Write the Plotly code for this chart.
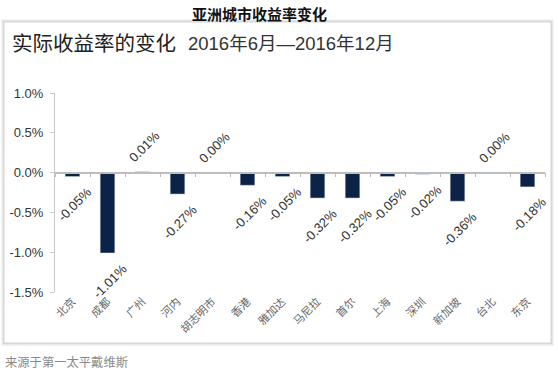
import plotly.graph_objects as go

cities = ["北京", "成都", "广州", "河内", "胡志明市", "香港", "雅加达", "马尼拉",
          "首尔", "上海", "深圳", "新加坡", "台北", "东京"]
values = [-0.05, -1.01, 0.01, -0.27, 0.00, -0.16, -0.05, -0.32,
          -0.32, -0.05, -0.02, -0.36, 0.00, -0.18]
value_labels = ["-0.05%", "-1.01%", "0.01%", "-0.27%", "0.00%", "-0.16%", "-0.05%", "-0.32%",
                "-0.32%", "-0.05%", "-0.02%", "-0.36%", "0.00%", "-0.18%"]
y_ticks = [1.0, 0.5, 0.0, -0.5, -1.0, -1.5]
y_tick_labels = ["1.0%", "0.5%", "0.0%", "-0.5%", "-1.0%", "-1.5%"]

W, H = 558, 376
ML, MR, MT, MB = 55, 13, 93, 84
PW, PH = W - ML - MR, H - MT - MB

def px(x):
    return (x - ML) / PW

def py(y):
    return (H - MB - y) / PH

n = len(cities)
xs = list(range(n))
FONT = "Liberation Sans, Arial, Noto Sans CJK SC, sans-serif"
CJK = "Noto Sans CJK SC, sans-serif"

fig = go.Figure()
fig.add_trace(go.Bar(x=xs, y=values, marker_color="#0c2246", width=0.42,
                     hoverinfo="skip", showlegend=False))

annotations = []
for i, (v, t) in enumerate(zip(values, value_labels)):
    up = v >= 0
    annotations.append(dict(x=i, y=v, xref="x", yref="y", text=t, showarrow=False,
                            textangle=-45, xshift=2, yshift=25 if up else -28,
                            font=dict(family=FONT, size=13, color="#333")))

annotations += [
    dict(x=px(259), y=py(13), xref="paper", yref="paper", text="<b>亚洲城市收益率变化</b>",
         showarrow=False, xanchor="center", yanchor="middle",
         font=dict(family=CJK, size=15, color="#111")),
    dict(x=px(10), y=py(42), xref="paper", yref="paper", text="实际收益率的变化",
         showarrow=False, xanchor="left", yanchor="middle",
         font=dict(family=CJK, size=20.5, color="#222")),
    dict(x=px(186), y=py(43), xref="paper", yref="paper", text="2016年6月—2016年12月",
         showarrow=False, xanchor="left", yanchor="middle",
         font=dict(family=FONT, size=18.5, color="#333")),
    dict(x=px(3), y=py(362), xref="paper", yref="paper", text="来源于第一太平戴维斯",
         showarrow=False, xanchor="left", yanchor="middle",
         font=dict(family=CJK, size=12.3, color="#8a8a8a")),
]

shapes = []
# soft shadow for the panel
for k, c in enumerate(["rgba(0,0,0,0.04)", "rgba(0,0,0,0.05)", "rgba(0,0,0,0.07)"]):
    d = 3 - k
    shapes.append(dict(type="rect", xref="paper", yref="paper", layer="below",
                       x0=px(4 - d), x1=px(551 + d), y0=py(22 - d), y1=py(343 + d),
                       line=dict(width=0), fillcolor=c))
shapes.append(dict(type="rect", xref="paper", yref="paper", layer="below",
                   x0=px(4), x1=px(551), y0=py(22), y1=py(343),
                   line=dict(width=1, color="#d8d8d8"), fillcolor="white"))

zero_pos = (0 - y_ticks[-1]) / (y_ticks[0] - y_ticks[-1])

fig.update_layout(
    width=W, height=H, margin=dict(l=ML, r=MR, t=MT, b=MB),
    paper_bgcolor="white", plot_bgcolor="rgba(0,0,0,0)",
    annotations=annotations, shapes=shapes, bargap=0.6,
    xaxis=dict(range=[-0.5, n - 0.5], tickmode="array", tickvals=xs, ticktext=cities,
               tickangle=-45, showline=False, showgrid=False, zeroline=False, ticks="",
               automargin=False,
               tickfont=dict(family=CJK, size=11, color="#666")),
    xaxis2=dict(overlaying="x", anchor="free", position=zero_pos, side="bottom",
                range=[-0.5, n - 0.5], tickmode="array",
                tickvals=[i - 0.5 for i in range(n + 1)], showticklabels=False,
                showline=True, linecolor="#bdbdbd", linewidth=1.5, ticks="outside",
                ticklen=4, tickcolor="#bdbdbd", showgrid=False, zeroline=False,
                automargin=False),
    yaxis=dict(range=[y_ticks[-1], y_ticks[0]], tickmode="array", tickvals=y_ticks,
               ticktext=y_tick_labels, showgrid=False, zeroline=False, showline=True,
               linecolor="#c8c8c8", linewidth=1, ticks="outside", ticklen=4,
               tickcolor="#c8c8c8", ticklabelstandoff=4, automargin=False,
               tickfont=dict(family=FONT, size=13, color="#333")),
)
fig.add_trace(go.Scatter(x=[None], y=[None], xaxis="x2", showlegend=False))
fig.write_html("out.html", config={"displayModeBar": False},
               post_script="document.body.style.margin='0';document.body.style.overflow='hidden';")
